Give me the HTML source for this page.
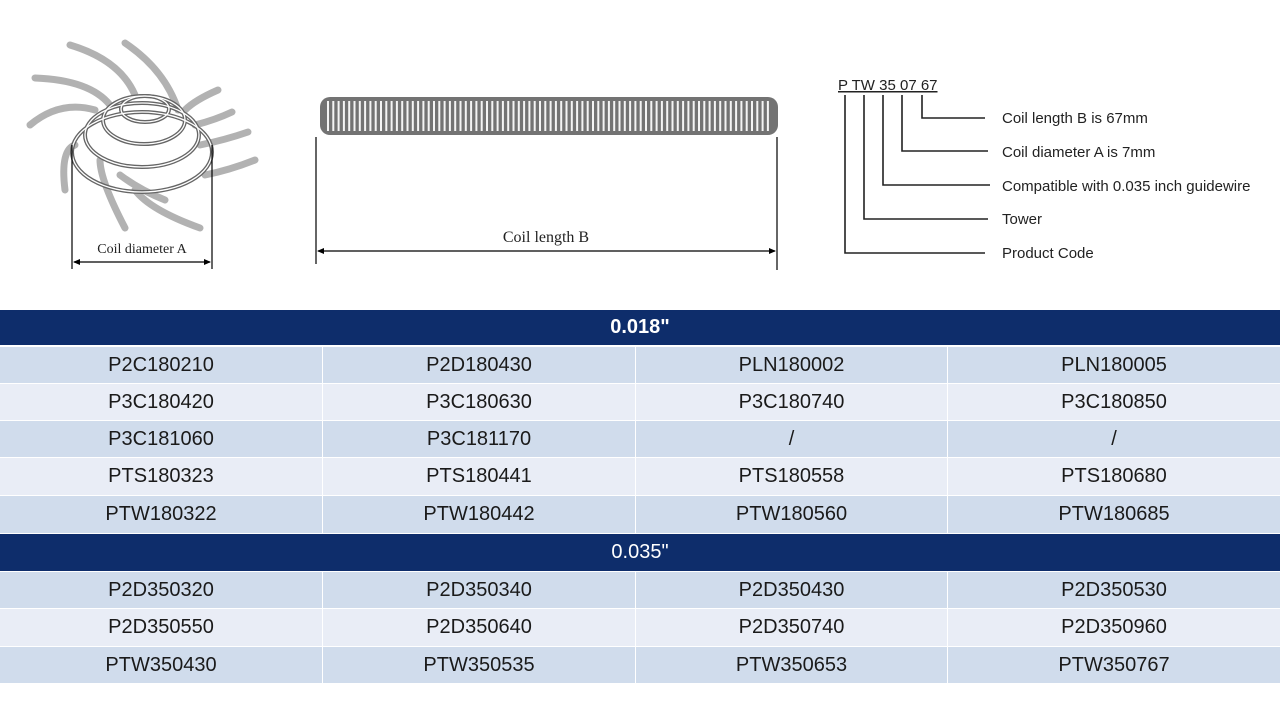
<!DOCTYPE html>
<html><head><meta charset="utf-8"><style>
body{margin:0;width:1280px;height:720px;background:#fff;position:relative;overflow:hidden;font-family:"Liberation Sans",sans-serif}
.r{position:absolute;left:0;width:1280px;display:flex}
.r div{display:flex;align-items:center;justify-content:center;font-size:20px;color:#1a1a1a;height:100%}
.h{background:#0e2d6b;color:#fff;justify-content:center;align-items:center;font-size:20px}
</style></head><body>
<svg width="1280" height="310" style="position:absolute;left:0;top:0">
<g stroke="#aaa" stroke-width="7" fill="none" stroke-linecap="round" opacity="0.9">
<path d="M70 45 Q120 60 135 95"/>
<path d="M125 43 Q165 70 178 110"/>
<path d="M35 78 Q90 80 110 105"/>
<path d="M30 125 Q60 100 95 110"/>
<path d="M65 190 Q60 150 75 145"/>
<path d="M125 228 Q100 180 100 160"/>
<path d="M200 228 Q150 210 135 190"/>
<path d="M218 90 Q195 100 185 110"/>
<path d="M232 112 Q215 120 195 125"/>
<path d="M248 132 Q225 140 200 145"/>
<path d="M255 160 Q230 170 205 175"/>
<path d="M165 200 Q140 190 120 175"/>
</g>
<g stroke="#666" stroke-width="4" fill="none">
<ellipse cx="145" cy="109" rx="24" ry="13"/>
<ellipse cx="144" cy="120" rx="41" ry="24"/>
<ellipse cx="142" cy="135" rx="57" ry="32"/>
<ellipse cx="142" cy="152" rx="70" ry="40"/>
</g>
<g stroke="#fff" stroke-width="1.3" fill="none">
<ellipse cx="145" cy="109" rx="24" ry="13"/>
<ellipse cx="144" cy="120" rx="41" ry="24"/>
<ellipse cx="142" cy="135" rx="57" ry="32"/>
<ellipse cx="142" cy="152" rx="70" ry="40"/>
</g>
<g stroke="#000" stroke-width="1.2">
<line x1="72" y1="145" x2="72" y2="269"/><line x1="212" y1="145" x2="212" y2="269"/>
<line x1="74" y1="262" x2="210" y2="262"/>
<line x1="316" y1="137" x2="316" y2="264"/><line x1="777" y1="137" x2="777" y2="270"/>
<line x1="318" y1="251" x2="775" y2="251"/>
</g>
<polygon points="73,262 80,259 80,265" fill="#000"/><polygon points="211,262 204,259 204,265" fill="#000"/>
<polygon points="317,251 324,248 324,254" fill="#000"/><polygon points="776,251 769,248 769,254" fill="#000"/>
<text x="142" y="253" font-family="Liberation Serif,serif" font-size="14" text-anchor="middle" fill="#222">Coil diameter A</text>
<text x="546" y="242" font-family="Liberation Serif,serif" font-size="16" text-anchor="middle" fill="#222">Coil length B</text>
<rect x="320" y="97" width="458" height="38" rx="10" fill="#737373"/>
<g stroke="#f4f4f4" stroke-width="2">
<path d="M328 101V131M333.3 101V131M338.6 101V131M343.9 101V131M349.2 101V131M354.5 101V131M359.8 101V131M365.1 101V131M370.4 101V131M375.7 101V131M381 101V131M386.3 101V131M391.6 101V131M396.9 101V131M402.2 101V131M407.5 101V131M412.8 101V131M418.1 101V131M423.4 101V131M428.7 101V131M434 101V131M439.3 101V131M444.6 101V131M449.9 101V131M455.2 101V131M460.5 101V131M465.8 101V131M471.1 101V131M476.4 101V131M481.7 101V131M487 101V131M492.3 101V131M497.6 101V131M502.9 101V131M508.2 101V131M513.5 101V131M518.8 101V131M524.1 101V131M529.4 101V131M534.7 101V131M540 101V131M545.3 101V131M550.6 101V131M555.9 101V131M561.2 101V131M566.5 101V131M571.8 101V131M577.1 101V131M582.4 101V131M587.7 101V131M593 101V131M598.3 101V131M603.6 101V131M608.9 101V131M614.2 101V131M619.5 101V131M624.8 101V131M630.1 101V131M635.4 101V131M640.7 101V131M646 101V131M651.3 101V131M656.6 101V131M661.9 101V131M667.2 101V131M672.5 101V131M677.8 101V131M683.1 101V131M688.4 101V131M693.7 101V131M699 101V131M704.3 101V131M709.6 101V131M714.9 101V131M720.2 101V131M725.5 101V131M730.8 101V131M736.1 101V131M741.4 101V131M746.7 101V131M752 101V131M757.3 101V131M762.6 101V131M767.9 101V131"/>
</g>
<text x="838" y="90" font-size="15" fill="#222" text-decoration="underline">P TW 35 07 67</text>
<g stroke="#222" stroke-width="1.6" fill="none">
<path d="M845 95V253H985"/><path d="M864 95V219H988"/><path d="M883 95V185H990"/><path d="M902 95V151H988"/><path d="M922 95V118H985"/>
</g>
<g font-size="15" fill="#222">
<text x="1002" y="123">Coil length B is 67mm</text>
<text x="1002" y="157">Coil diameter A is 7mm</text>
<text x="1002" y="191">Compatible with 0.035 inch guidewire</text>
<text x="1002" y="224">Tower</text>
<text x="1002" y="258">Product Code</text>
</g>
</svg>

<div class="r h" style="top:310px;height:35px;font-weight:bold">0.018"</div>
<div class="r" style="top:347px;height:36px"><div style="width:322px;background:#d0dcec">P2C180210</div><div style="width:312px;margin-left:1px;background:#d0dcec">P2D180430</div><div style="width:311px;margin-left:1px;background:#d0dcec">PLN180002</div><div style="width:332px;margin-left:1px;background:#d0dcec">PLN180005</div></div>
<div class="r" style="top:384px;height:36px"><div style="width:322px;background:#e9edf6">P3C180420</div><div style="width:312px;margin-left:1px;background:#e9edf6">P3C180630</div><div style="width:311px;margin-left:1px;background:#e9edf6">P3C180740</div><div style="width:332px;margin-left:1px;background:#e9edf6">P3C180850</div></div>
<div class="r" style="top:421px;height:36px"><div style="width:322px;background:#d0dcec">P3C181060</div><div style="width:312px;margin-left:1px;background:#d0dcec">P3C181170</div><div style="width:311px;margin-left:1px;background:#d0dcec">/</div><div style="width:332px;margin-left:1px;background:#d0dcec">/</div></div>
<div class="r" style="top:458px;height:37px"><div style="width:322px;background:#e9edf6">PTS180323</div><div style="width:312px;margin-left:1px;background:#e9edf6">PTS180441</div><div style="width:311px;margin-left:1px;background:#e9edf6">PTS180558</div><div style="width:332px;margin-left:1px;background:#e9edf6">PTS180680</div></div>
<div class="r" style="top:496px;height:37px"><div style="width:322px;background:#d0dcec">PTW180322</div><div style="width:312px;margin-left:1px;background:#d0dcec">PTW180442</div><div style="width:311px;margin-left:1px;background:#d0dcec">PTW180560</div><div style="width:332px;margin-left:1px;background:#d0dcec">PTW180685</div></div>
<div class="r h" style="top:534px;height:37px">0.035"</div>
<div class="r" style="top:572px;height:36px"><div style="width:322px;background:#d0dcec">P2D350320</div><div style="width:312px;margin-left:1px;background:#d0dcec">P2D350340</div><div style="width:311px;margin-left:1px;background:#d0dcec">P2D350430</div><div style="width:332px;margin-left:1px;background:#d0dcec">P2D350530</div></div>
<div class="r" style="top:609px;height:37px"><div style="width:322px;background:#e9edf6">P2D350550</div><div style="width:312px;margin-left:1px;background:#e9edf6">P2D350640</div><div style="width:311px;margin-left:1px;background:#e9edf6">P2D350740</div><div style="width:332px;margin-left:1px;background:#e9edf6">P2D350960</div></div>
<div class="r" style="top:647px;height:36px"><div style="width:322px;background:#d0dcec">PTW350430</div><div style="width:312px;margin-left:1px;background:#d0dcec">PTW350535</div><div style="width:311px;margin-left:1px;background:#d0dcec">PTW350653</div><div style="width:332px;margin-left:1px;background:#d0dcec">PTW350767</div></div>
</body></html>
